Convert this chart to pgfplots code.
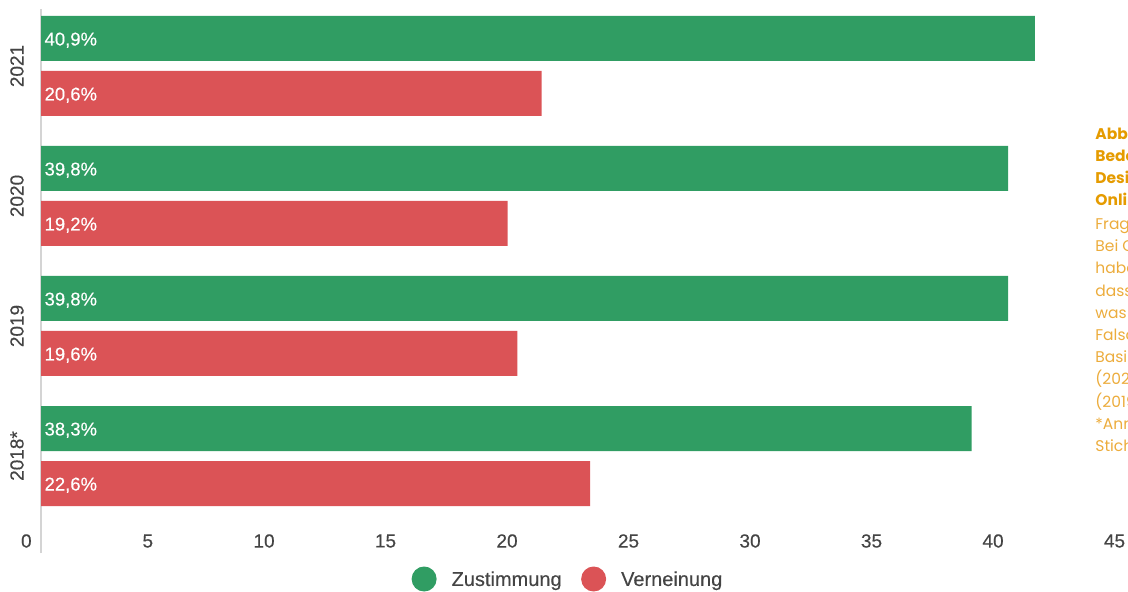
\documentclass[border=0pt]{standalone}
\usepackage{pgfplots}
\pgfplotsset{compat=1.18}
\usepackage{fontspec}
\setmainfont{Liberation Sans}[FakeBold=0.3]
\newfontfamily\notefont{Poppins}
\definecolor{zgreen}{RGB}{48,157,99}
\definecolor{vred}{RGB}{219,83,86}
\definecolor{textgray}{RGB}{68,68,68}
\definecolor{axisgray}{RGB}{212,212,212}
\definecolor{orangebold}{RGB}{229,155,0}
\definecolor{orangereg}{RGB}{236,172,60}
\begin{document}
\begin{tikzpicture}
\useasboundingbox (0,0) rectangle (564pt,-296pt);
\begin{axis}[
  at={(20.5pt,-276.5pt)}, anchor=south west,
  width=546.75pt, height=272pt, scale only axis,
  xmin=0, xmax=45, ymin=-553, ymax=-9,
  enlargelimits=false,
  clip=false,
  axis x line*=bottom, axis y line*=left,
  x axis line style={draw=none},
  y axis line style={draw=axisgray, line width=1pt},
  major tick length=0pt,
  xtick={0,5,...,45},
  xticklabels={0,5,10,15,20,25,30,35,40,45},
  xticklabel style={anchor=east, inner sep=0pt, xshift=-4.5pt, yshift=6pt, text=textgray, font=\fontsize{9.5}{11}\selectfont},
  ytick={-66,-196,-326,-456},
  yticklabels={2021,2020,2019,2018*},
  yticklabel style={xshift=-12pt, rotate=90, anchor=center, inner sep=0pt, text=textgray, font=\fontsize{9.5}{11}\selectfont},
  legend style={at={(0.481,-0.0478)}, anchor=center, draw=none, fill=none,
    legend columns=2, font=\fontsize{10}{12}\selectfont, text=textgray,
    nodes={inner sep=0pt},
    /tikz/every odd column/.append style={column sep=7.5pt},
    /tikz/every even column/.append style={column sep=9.75pt}},
]
% Zustimmung
\addplot[xbar, bar width=22.5pt, bar shift=0pt, fill=zgreen, draw=none,
  legend image code/.code={\fill[zgreen] (6.25pt,0.6pt) circle (6.25pt);}]
  coordinates {(40.9,-38.5) (39.8,-168.5) (39.8,-298.5) (38.3,-428.5)};
\addlegendentry{Zustimmung}
% Verneinung
\addplot[xbar, bar width=22.5pt, bar shift=0pt, fill=vred, draw=none,
  legend image code/.code={\fill[vred] (6.25pt,0.6pt) circle (6.25pt);}]
  coordinates {(20.6,-93.5) (19.2,-223.5) (19.6,-353.5) (22.6,-483.5)};
\addlegendentry{Verneinung}
% value labels at the start of the bars
\addplot[draw=none, mark=none, forget plot, nodes near coords, point meta=explicit symbolic,
  nodes near coords style={anchor=base west, inner sep=0pt, xshift=1.6pt, yshift=-3.5pt,
    text=white, font=\fontsize{9.25}{11}\selectfont}]
  coordinates {(0,-38.5) [40,9\%] (0,-168.5) [39,8\%] (0,-298.5) [39,8\%] (0,-428.5) [38,3\%]};
\addplot[draw=none, mark=none, forget plot, nodes near coords, point meta=explicit symbolic,
  nodes near coords style={anchor=base west, inner sep=0pt, xshift=1.6pt, yshift=-3.5pt,
    text=white, font=\fontsize{9.25}{11}\selectfont}]
  coordinates {(0,-93.5) [20,6\%] (0,-223.5) [19,2\%] (0,-353.5) [19,6\%] (0,-483.5) [22,6\%]};
\end{axis}
% side note (cut off at the right edge, as in the reference)
\begin{scope}[every node/.style={anchor=base west, inner sep=0pt}]
\node[text=orangebold, font=\notefont\bfseries\fontsize{7.75}{9}\selectfont] at (547.5pt,-69.75pt) {Abbildung};
\node[text=orangebold, font=\notefont\bfseries\fontsize{7.75}{9}\selectfont] at (547.5pt,-80.75pt) {Bedeutung};
\node[text=orangebold, font=\notefont\bfseries\fontsize{7.75}{9}\selectfont] at (547.5pt,-91.75pt) {Desinformation};
\node[text=orangebold, font=\notefont\bfseries\fontsize{7.75}{9}\selectfont] at (547.5pt,-102.75pt) {Online};
\node[text=orangereg, font=\notefont\fontsize{7.75}{9}\selectfont] at (547.5pt,-114.75pt) {Frage:};
\node[text=orangereg, font=\notefont\fontsize{7.75}{9}\selectfont] at (547.5pt,-125.85pt) {Bei Online};
\node[text=orangereg, font=\notefont\fontsize{7.75}{9}\selectfont] at (547.5pt,-136.95pt) {haben};
\node[text=orangereg, font=\notefont\fontsize{7.75}{9}\selectfont] at (547.5pt,-148.05pt) {dass};
\node[text=orangereg, font=\notefont\fontsize{7.75}{9}\selectfont] at (547.5pt,-159.15pt) {was};
\node[text=orangereg, font=\notefont\fontsize{7.75}{9}\selectfont] at (547.5pt,-170.25pt) {Falsch};
\node[text=orangereg, font=\notefont\fontsize{7.75}{9}\selectfont] at (547.5pt,-181.35pt) {Basis:};
\node[text=orangereg, font=\notefont\fontsize{7.75}{9}\selectfont] at (547.5pt,-192.45pt) {(2021)};
\node[text=orangereg, font=\notefont\fontsize{7.75}{9}\selectfont] at (547.5pt,-203.55pt) {(2019)};
\node[text=orangereg, font=\notefont\fontsize{7.75}{9}\selectfont] at (547.5pt,-214.65pt) {*Anmerkung};
\node[text=orangereg, font=\notefont\fontsize{7.75}{9}\selectfont] at (547.5pt,-225.75pt) {Stichprobe};
\end{scope}
\end{tikzpicture}
\end{document}
